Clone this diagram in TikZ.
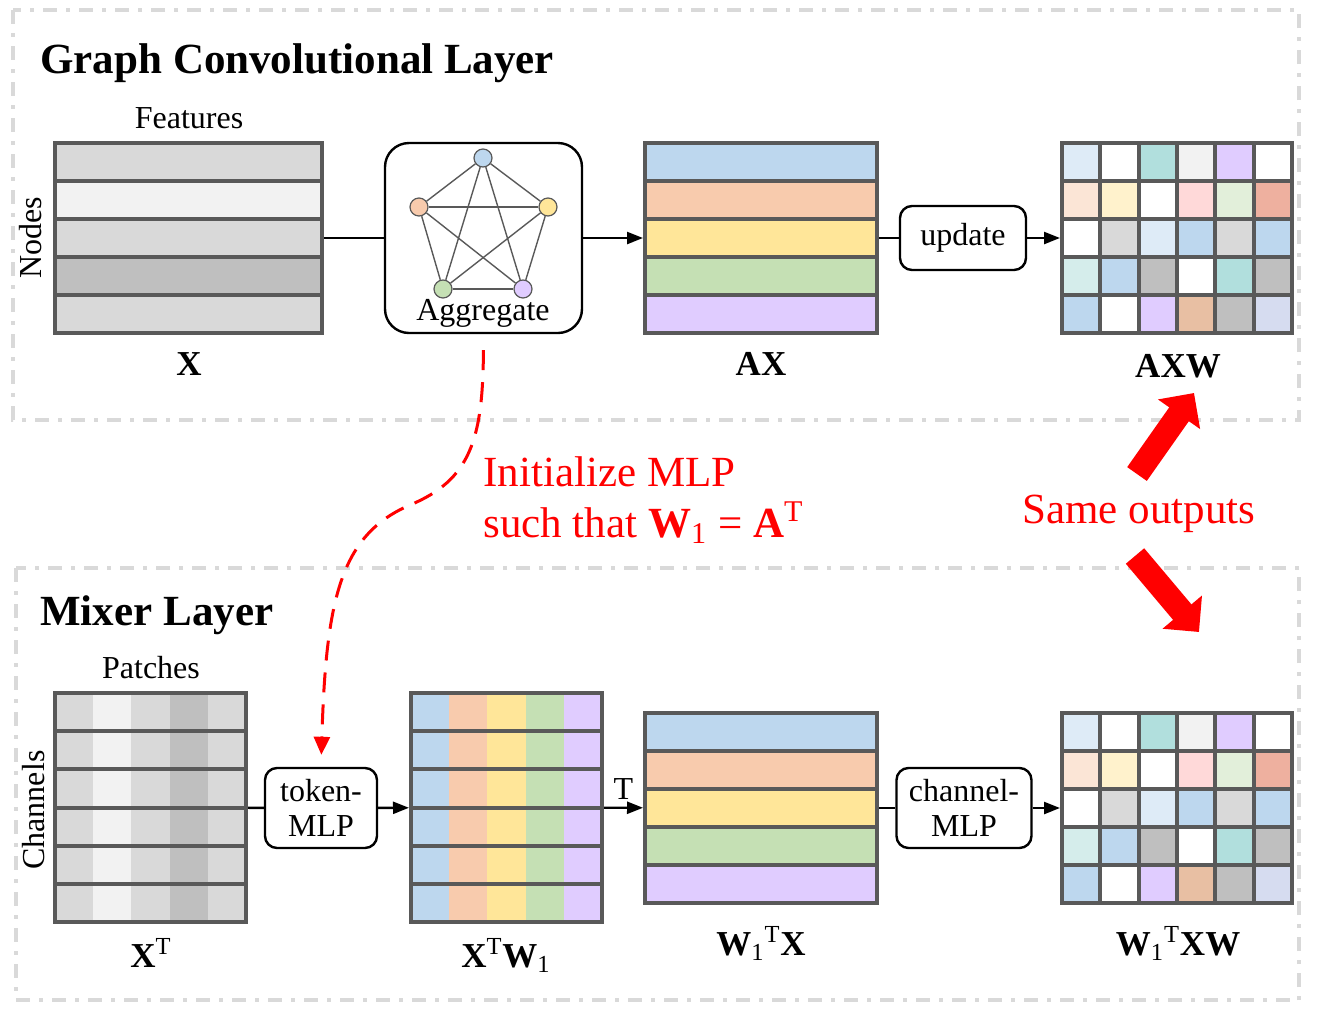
\documentclass[tikz,border=0pt]{standalone}
\usepackage{fontspec}
\setmainfont{Liberation Serif}
\usetikzlibrary{positioning,fit,arrows.meta}

\definecolor{matline}{HTML}{595959}
\definecolor{frameg}{HTML}{D9D9D9}
\definecolor{gA}{HTML}{D9D9D9}
\definecolor{gB}{HTML}{F2F2F2}
\definecolor{gC}{HTML}{BFBFBF}
\definecolor{cBlue}{HTML}{BDD7EE}
\definecolor{cOrange}{HTML}{F8CBAD}
\definecolor{cYellow}{HTML}{FFE699}
\definecolor{cGreen}{HTML}{C5E0B4}
\definecolor{cPurple}{HTML}{E0CCFF}
\definecolor{lBlue}{HTML}{DEEBF7}
\definecolor{cTeal}{HTML}{B1DFDD}
\definecolor{lTeal}{HTML}{D5EDEB}
\definecolor{lPeach}{HTML}{FBE5D6}
\definecolor{lYellow}{HTML}{FFF2CC}
\definecolor{lPink}{HTML}{FFD9D9}
\definecolor{lGreen}{HTML}{E2EFDA}
\definecolor{cSalmon}{HTML}{EEB09F}
\definecolor{cTan}{HTML}{E8BFA3}
\definecolor{lLav}{HTML}{D6DCF0}

% colours of the output grid, row by row
\newcommand{\gridcols}{{lBlue,white,cTeal,gB,cPurple,white},%
  {lPeach,lYellow,white,lPink,lGreen,cSalmon},%
  {white,gA,lBlue,cBlue,gA,cBlue},%
  {lTeal,cBlue,gC,white,cTeal,gC},%
  {cBlue,white,cPurple,cTan,gC,lLav}}

\tikzset{
  mat/.style={draw=matline, line width=2pt, inner sep=0pt},
  sep/.style={matline, line width=2pt},
  opbox/.style={draw, rounded corners=6pt, line width=1.2pt, align=center, inner sep=0pt},
  conn/.style={line width=1.2pt, -{Triangle[length=8pt,width=6pt]}},
  lbl/.style={font=\fontsize{17.5}{20}\selectfont, anchor=base},
  ttl/.style={font=\fontsize{21.5}{24}\selectfont\bfseries, anchor=base west, inner sep=0pt},
  frame/.style={draw=frameg, line width=2pt, dash pattern=on 7pt off 4.5pt on 2pt off 4.5pt},
  gnode/.style={circle, draw=matline, line width=0.6pt, minimum size=9pt, inner sep=0pt},
  redtxt/.style={text=red, font=\fontsize{21.5}{25}\selectfont, anchor=base west, inner sep=0pt},
  bigarr/.style={red, line width=12pt, -{Triangle[length=13pt,width=25pt]}},
}

\begin{document}
\begin{tikzpicture}[x=0.5pt, y=-0.5pt, font=\fontsize{16}{17.5}\selectfont]
    \useasboundingbox (0,0) rectangle (1318,1018);

    % frames
    \draw[frame] (13,10) rectangle (1299,420);
    \draw[frame] (16,568) rectangle (1299,1000);

    \node[ttl] (gcltitle) at (40,73) {Graph Convolutional Layer};
    \node[ttl] (mixtitle) at (40,625) {Mixer Layer};

    % ---- graph convolutional layer ----
    \foreach \c [count=\i from 0] in {gA,gB,gA,gC,gA}
        \fill[\c] (55,143+38*\i) rectangle (322,181+38*\i);
    \foreach \i in {1,...,4}
        \draw[sep] (55,143+38*\i) -- (322,143+38*\i);
    \node[mat, fit={(55,143) (322,333)}] (X) {};
    \node[anchor=base] (feat) at (189,128) {Features};
    \node[rotate=90] (nodes) at (31,238) {Nodes};
    \node[lbl] (Xlab) at (189,375) {\textbf{X}};

    \node[opbox, minimum width=98.5pt, minimum height=95pt, rounded corners=12pt] (agg) at (483.5,238) {};
    \node[gnode, fill=cBlue] (gt) at (483,158) {};
    \node[gnode, fill=cOrange] (gl) at (419,207) {};
    \node[gnode, fill=cYellow] (gr) at (548,207) {};
    \node[gnode, fill=cGreen] (gbl) at (443,289) {};
    \node[gnode, fill=cPurple] (gbr) at (523,289) {};
    \foreach \a/\b in {gt/gl,gt/gr,gt/gbl,gt/gbr,gl/gr,gl/gbl,gl/gbr,gr/gbl,gr/gbr,gbl/gbr}
        \draw[matline, line width=0.7pt] (\a) -- (\b);
    \node[anchor=base] (agglab) at (483,320) {Aggregate};

    \foreach \c [count=\i from 0] in {cBlue,cOrange,cYellow,cGreen,cPurple}
        \fill[\c] (645,143+38*\i) rectangle (877,181+38*\i);
    \foreach \i in {1,...,4}
        \draw[sep] (645,143+38*\i) -- (877,143+38*\i);
    \node[mat, fit={(645,143) (877,333)}] (AX) {};
    \node[lbl] (AXlab) at (761,375) {\textbf{AX}};

    \node[opbox, minimum width=63pt, minimum height=32pt] (upd) at (963,238) {update};

    \foreach \row [count=\j from 0] in \gridcols
        \foreach \c [count=\i from 0] in \row
            \fill[\c] (1062+38.33*\i,143+38*\j) rectangle ++(38.33,38);
    \foreach \i in {1,...,5}
        \draw[sep] (1062+38.33*\i,143) -- ++(0,190);
    \foreach \j in {1,...,4}
        \draw[sep] (1062,143+38*\j) -- ++(230,0);
    \node[mat, fit={(1062,143) (1292,333)}] (AXW) {};
    \node[lbl] (AXWlab) at (1178,377) {\textbf{AXW}};

    \path[conn]
    (X) edge[-] (agg)
    (agg) edge (AX)
    (AX) edge[-] (upd)
    (upd) edge (AXW);

    % ---- mixer layer ----
    \foreach \c [count=\i from 0] in {gA,gB,gA,gC,gA}
        \fill[\c] (55+38.2*\i,693) rectangle ++(38.2,229);
    \foreach \i in {1,...,5}
        \draw[sep] (55,693+38.17*\i) -- (246,693+38.17*\i);
    \node[mat, fit={(55,693) (246,922)}] (XT) {};
    \node[anchor=base] (patch) at (151,678) {Patches};
    \node[rotate=90] (chan) at (34,810) {Channels};
    \node[lbl] (XTlab) at (151,967) {\textbf{X}\textsuperscript{T}};

    \node[opbox, minimum width=56pt, minimum height=40pt] (token) at (321,808) {token-\\MLP};

    \foreach \c [count=\i from 0] in {cBlue,cOrange,cYellow,cGreen,cPurple}
        \fill[\c] (411+38.2*\i,693) rectangle ++(38.2,229);
    \foreach \i in {1,...,5}
        \draw[sep] (411,693+38.17*\i) -- (602,693+38.17*\i);
    \node[mat, fit={(411,693) (602,922)}] (XTW) {};
    \node[lbl] (XTWlab) at (506,967) {\textbf{X}\textsuperscript{T}\textbf{W}\textsubscript{1}};

    \foreach \c [count=\i from 0] in {cBlue,cOrange,cYellow,cGreen,cPurple}
        \fill[\c] (645,713+38*\i) rectangle (877,751+38*\i);
    \foreach \i in {1,...,4}
        \draw[sep] (645,713+38*\i) -- (877,713+38*\i);
    \node[mat, fit={(645,713) (877,903)}] (WTX) {};
    \node[lbl] (WTXlab) at (761,955) {\textbf{W}\textsubscript{1}\textsuperscript{T}\textbf{X}};

    \node[opbox, minimum width=67.5pt, minimum height=40pt] (chmlp) at (964,808) {channel-\\MLP};

    \foreach \row [count=\j from 0] in \gridcols
        \foreach \c [count=\i from 0] in \row
            \fill[\c] (1062+38.33*\i,713+38*\j) rectangle ++(38.33,38);
    \foreach \i in {1,...,5}
        \draw[sep] (1062+38.33*\i,713) -- ++(0,190);
    \foreach \j in {1,...,4}
        \draw[sep] (1062,713+38*\j) -- ++(230,0);
    \node[mat, fit={(1062,713) (1292,903)}] (WTXW) {};
    \node[lbl] (WTXWlab) at (1178,955) {\textbf{W}\textsubscript{1}\textsuperscript{T}\textbf{XW}};

    \path[conn]
    (XT) edge[-] (token)
    (token) edge (XTW)
    (XTW) edge node[above] (tlab) {T} (WTX)
    (WTX) edge[-] (chmlp)
    (chmlp) edge (WTXW);

    % ---- between the layers ----
    \draw[red, line width=1.5pt, dash pattern=on 10pt off 6pt, -{Triangle[length=9pt,width=8pt]},
        shorten <=8pt, shorten >=6pt]
        (agg.south) .. controls (483,440) and (470,480) .. (410,505)
        .. controls (340,535) and (326,600) .. (token.north);
    \node[redtxt] (init1) at (483,486) {Initialize MLP};
    \node[redtxt] (init2) at (483,537) {such that \textbf{W}\textsubscript{1} = \textbf{A}\textsuperscript{T}};

    \node[redtxt] (same) at (1022,523) {Same outputs};
    \coordinate (upA) at (1137,474);
    \coordinate (upB) at (1194,393);
    \coordinate (dnA) at (1135,556);
    \coordinate (dnB) at (1199,632);
    \draw[bigarr] (upA) -- (upB);
    \draw[bigarr] (dnA) -- (dnB);
\end{tikzpicture}
\end{document}
